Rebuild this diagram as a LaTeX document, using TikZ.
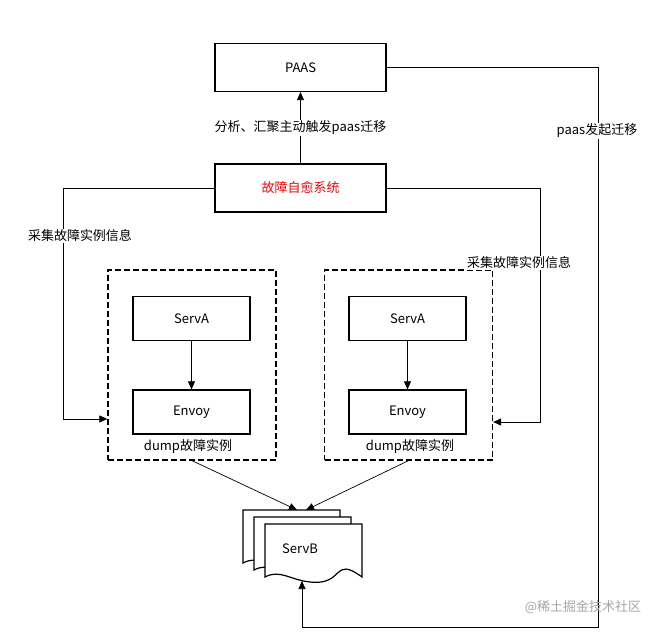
\documentclass[tikz,border=0pt]{standalone}
\usepackage{fontspec}
\setmainfont{Noto Sans CJK SC}
\usetikzlibrary{positioning,arrows.meta}
\tikzset{
    box/.style = {draw=black, line width=1.2pt, rectangle, minimum width=171pt, minimum height=48pt, inner sep=0pt},
    serv/.style = {draw=black, line width=1.2pt, rectangle, minimum width=117pt, minimum height=44pt, inner sep=0pt},
    group/.style = {draw=black, line width=1.3pt, dash pattern=on 6pt off 3pt, rectangle, minimum width=168pt, minimum height=190pt, inner sep=0pt},
    lbl/.style = {fill=white, inner sep=1pt},
    conn/.style = {-{Triangle[length=8pt,width=7pt]}, line width=0.7pt}
}
\newcommand{\docshape}[2]{%
  \draw[line width=1.2pt, fill=white] (#1,#2) -- ++(97,0) -- ++(0,53)
    .. controls ++(-30,-22) and ++(35,4) .. ++(-52,5)
    .. controls ++(-20,-2) and ++(15,-8) .. ++(-45,-5) -- cycle;}
\begin{document}
\begin{tikzpicture}[x=1pt, y=-1pt, font=\fontsize{13}{15}\selectfont]
	\useasboundingbox (0,0) rectangle (662,636);
	\node (paas) [box] at (300.5,67.5) {PAAS};
	\node (heal) [box, text=red] at (300.5,188) {故障自愈系统};
	\draw[conn] (heal) -- node (mig) [lbl] {分析、汇聚主动触发paas迁移} (paas);
	% dashed groups
	\node (gl) [group] at (192,365) {};
	\node (gr) [group] at (408.5,365) {};
	\node (sal) [serv] at (191.5,318.5) {ServA};
	\node (eal) [serv] at (191.5,412) {Envoy};
	\node (sar) [serv] at (407.5,318.5) {ServA};
	\node (ear) [serv] at (407.5,412) {Envoy};
	\draw[conn] (sal) -- (eal);
	\draw[conn] (sar) -- (ear);
	\node (dl) [inner sep=0pt] at (188,446) {dump故障实例};
	\node (dr) [inner sep=0pt] at (410,446) {dump故障实例};
	% ServB stack
	\docshape{243}{510}
	\docshape{254}{517}
	\docshape{265}{524}
	\node (servb) at (300,549) {ServB};
	\coordinate (bl) at (297,510);
	\coordinate (br) at (306,510);
	\coordinate (bb) at (302,581);
	\draw[conn] (gl.south) -- (bl);
	\draw[conn] (gr.south) -- (br);
	% side loops
	\draw[conn] (heal.west) -| (63,419) -- (gl.west |- 0,419);
	\draw[conn] (heal.east) -| (540,422) -- (gr.east |- 0,422);
	\node (cl) [lbl] at (80,236) {采集故障实例信息};
	\node (cr) [lbl] at (519,263) {采集故障实例信息};
	\draw[conn] (paas.east) -| (598,627) -| (bb);
	\node (pm) [lbl] at (597,131) {paas发起迁移};
	\node (wm) [text=gray!70] at (583,607) {@稀土掘金技术社区};
\end{tikzpicture}
\end{document}
